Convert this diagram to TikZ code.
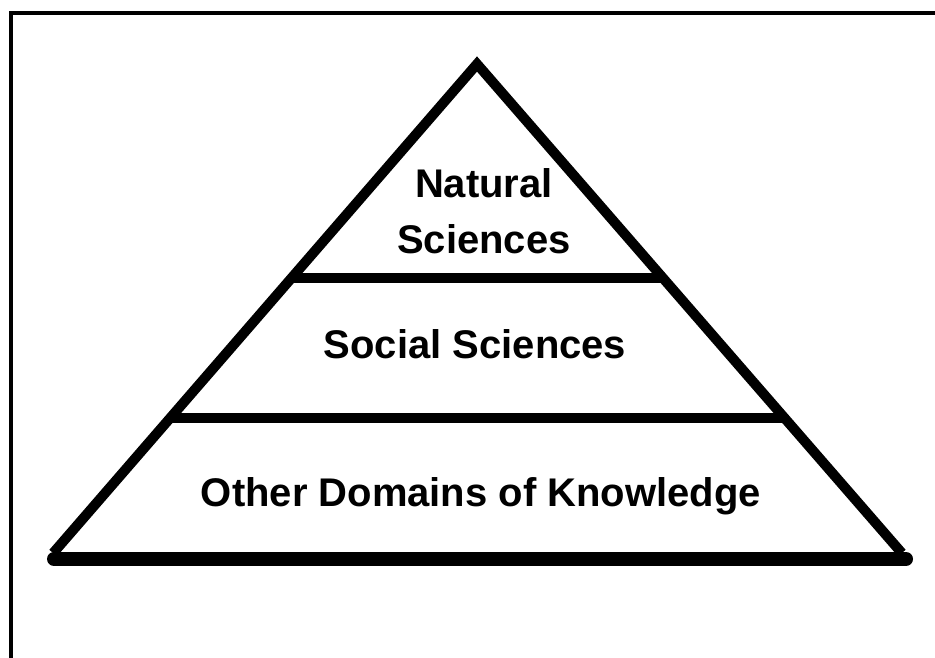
\documentclass[tikz,border=0pt]{standalone}
\usepackage{fontspec}
\setmainfont{Liberation Sans}
\usetikzlibrary{calc}

\begin{document}
\begin{tikzpicture}[x=1pt, y=-1pt]
  \tikzstyle{every node} = [font=\fontsize{40}{56}\selectfont\bfseries, align=center];
  \tikzstyle{side} = [line width=10pt, line join=miter];
  \tikzstyle{shelf} = [line width=10pt];
  \tikzstyle{floor} = [line width=14pt, line cap=round];

  \useasboundingbox (0,0) rectangle (935,658);
  \clip (0,0) rectangle (935,658);
  \draw[line width=4pt] (11,700) -- (11,13) -- (980,13);

  \coordinate (apex) at (477,64);
  \coordinate (bl) at (48,559);
  \coordinate (br) at (907,559);

  \draw[side] ($(apex)!0.988!(bl)$) -- (apex) -- ($(apex)!0.988!(br)$);
  \draw[shelf] ($(apex)!0.4323!(bl)$) -- ($(apex)!0.4323!(br)$);
  \draw[shelf] ($(apex)!0.7152!(bl)$) -- ($(apex)!0.7152!(br)$);
  \draw[floor] (54,559) -- (906,559);

  \node (nat) at (484,211) {Natural\\Sciences};
  \node[anchor=base] (soc) at (475,358) {Social Sciences};
  \node[anchor=base] (other) at (481,506) {Other Domains of Knowledge};
\end{tikzpicture}
\end{document}
